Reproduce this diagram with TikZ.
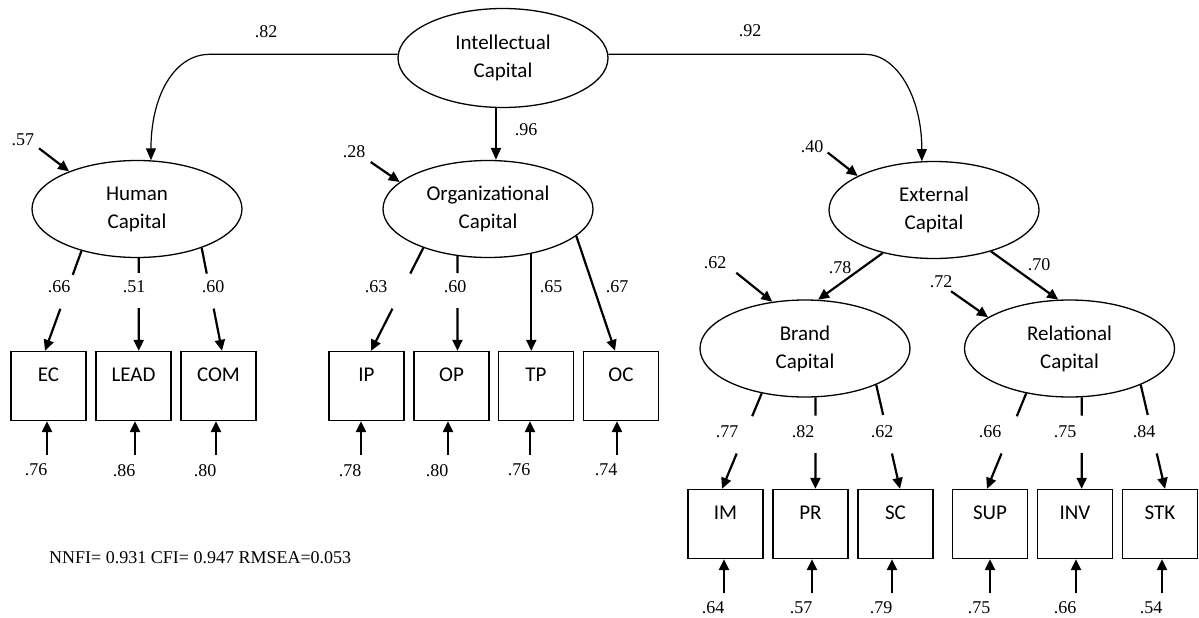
\documentclass[tikz,border=0pt]{standalone}
\usepackage{fontspec}
\setmainfont{Liberation Serif}
\newfontfamily\boxfont{Carlito}
\usetikzlibrary{arrows.meta,calc,shapes.geometric}

% loading line with a gap for its coefficient: start, end, gap start, gap end
\newcommand\brokenload[4]{%
  \draw[loadln] (#1) -- ($(#1)!#3!(#2)$);
  \draw[loadln,tipsm] ($(#1)!#4!(#2)$) -- (#2);}
% measurement error arrow below an indicator: box, x offset, label name, value
\newcommand\errterm[4]{%
  \draw[loadln,tipsm] ($(#1.south)+(#2,34)$) coordinate (#3-o) -- ($(#1.south)+(#2,0)$);
  \node[num] (#3) at ($(#3-o)+(-11,15)$) {#4};}

\begin{document}
\begin{tikzpicture}[x=1pt,y=-1pt,
  latent/.style={ellipse,draw,line width=1.3pt,minimum width=210pt,minimum height=97pt,
    inner sep=0pt,align=center,font=\boxfont\fontsize{21}{28}\selectfont},
  obs/.style={rectangle,draw,line width=1.3pt,minimum width=75pt,inner xsep=0pt,inner ysep=0pt,
    text height=29.5pt,text depth=39.5pt,font=\boxfont\fontsize{21}{25}\selectfont},
  num/.style={inner sep=0pt,font=\fontsize{18}{20}\selectfont},
  struct/.style={line width=1.2pt,-{Triangle[length=12pt,width=10pt]}},
  loadln/.style={line width=2.2pt},
  tipsm/.style={-{Triangle[length=11pt,width=10pt]}},
]
\useasboundingbox (0,0) rectangle (1199,618);

% latent constructs
\node[latent,minimum height=99pt] (IC) at (503,58) {Intellectual\\Capital};
\node[latent] (HC)   at (137,209)  {Human\\Capital};
\node[latent] (OrgC) at (488,209)  {Organizational\\Capital};
\node[latent] (ExtC) at (934,210)  {External\\Capital};
\node[latent] (BrC)  at (805,348.5) {Brand\\Capital};
\node[latent] (RelC) at (1069.5,348.5) {Relational\\Capital};

% indicators
\node[obs] (EC)   at (48.5,386)  {EC};
\node[obs] (LEAD) at (133.5,386) {LEAD};
\node[obs] (COM)  at (218.5,386) {COM};
\node[obs] (IP)   at (366.5,386) {IP};
\node[obs] (OP)   at (451.5,386) {OP};
\node[obs] (TP)   at (536,386)   {TP};
\node[obs] (OC)   at (621,386)   {OC};
\node[obs] (IM)   at (725.5,524) {IM};
\node[obs] (PR)   at (810.5,524) {PR};
\node[obs] (SC)   at (895.5,524) {SC};
\node[obs] (SUP)  at (990,524)   {SUP};
\node[obs] (INV)  at (1075,524)  {INV};
\node[obs] (STK)  at (1160,524)  {STK};

% second-order paths
\draw[struct] (IC.178) -- ++(-188,0) .. controls +(-35,0) and +(0,-65) .. (HC.74);
\draw[struct] (IC.2) -- ++(257,0) .. controls +(31,0) and +(0,-65) .. (ExtC.104);
\draw[line width=2pt,-{Triangle[length=12pt,width=10pt]}] (IC.262) -- (IC.262 |- OrgC.north);
\draw[loadln,tipsm] (ExtC.220) -- (BrC.75);
\draw[loadln,tipsm] (ExtC.324) -- (RelC.103);
\node[num] (w82) at (266,32)  {.82};
\node[num] (w92) at (750,31)  {.92};
\node[num] (w96) at (526,130) {.96};
\node[num] (w78) at (840,268) {.78};
\node[num] (w70) at (1039,265) {.70};

% disturbances
\draw[loadln,tipsm] ($(HC.151)+(-30,-23)$) coordinate (zHC) -- (HC.151);
\draw[loadln,tipsm] ($(OrgC.163)+(-29,-20)$) coordinate (zOrg) -- (OrgC.163);
\draw[loadln,tipsm] ($(ExtC.156)+(-30,-23.5)$) coordinate (zExt) -- (ExtC.156);
\draw[loadln,tipsm] ($(BrC.125)+(-36,-29)$) coordinate (zBr) -- (BrC.125);
\draw[loadln,tipsm] ($(RelC.159)+(-37,-26)$) coordinate (zRel) -- (RelC.159);
\node[num] (d57) at (23,140)  {.57};
\node[num] (d28) at (354,152) {.28};
\node[num] (d40) at (812,147) {.40};
\node[num] (d62) at (715,263) {.62};
\node[num] (d72) at (941,282) {.72};

% arrow ends on the indicators
\coordinate (ECin)  at ($(EC.north)+(-3.5,0)$);
\coordinate (LEADin) at (HC.272 |- LEAD.north);
\coordinate (COMin) at ($(COM.north)+(3.5,0)$);
\coordinate (IPin)  at ($(IP.north)+(4.5,0)$);
\coordinate (OPin)  at (OrgC.237 |- OP.north);
\coordinate (TPin)  at (OrgC.314 |- TP.north);
\coordinate (OCin)  at ($(OC.north)+(-6,0)$);
\coordinate (IMin)  at ($(IM.north)+(-3.5,0)$);
\coordinate (PRin)  at (BrC.282 |- PR.north);
\coordinate (SCin)  at ($(SC.north)+(4.5,0)$);
\coordinate (SUPin) at ($(SUP.north)+(-3,0)$);
\coordinate (INVin) at (RelC.284 |- INV.north);
\coordinate (STKin) at ($(STK.north)+(5,0)$);

% factor loadings
\brokenload{HC.217}{ECin}{0.24}{0.58}
\brokenload{HC.272}{LEADin}{0.16}{0.54}
\brokenload{HC.329}{COMin}{0.25}{0.59}
\brokenload{OrgC.211}{IPin}{0.25}{0.59}
\brokenload{OrgC.237}{OPin}{0.18}{0.55}
\draw[loadln,tipsm] (OrgC.314) -- (TPin);
\draw[loadln,tipsm] (OrgC.343) -- (OCin);
\brokenload{BrC.226}{IMin}{0.24}{0.63}
\brokenload{BrC.282}{PRin}{0.20}{0.61}
\brokenload{BrC.333}{SCin}{0.29}{0.66}
\brokenload{RelC.226}{SUPin}{0.24}{0.63}
\brokenload{RelC.284}{INVin}{0.20}{0.61}
\brokenload{RelC.333}{STKin}{0.29}{0.66}

\node[num] (lEC)   at (59,287)  {.66};
\node[num] (lLEAD) at (134,287) {.51};
\node[num] (lCOM)  at (213,287) {.60};
\node[num] (lIP)   at (376,287) {.63};
\node[num] (lOP)   at (455,287) {.60};
\node[num] (lTP)   at (551,287) {.65};
\node[num] (lOC)   at (617,287) {.67};
\node[num] (lIM)   at (727,432) {.77};
\node[num] (lPR)   at (803,432) {.82};
\node[num] (lSC)   at (882,432) {.62};
\node[num] (lSUP)  at (990,432) {.66};
\node[num] (lINV)  at (1065,432) {.75};
\node[num] (lSTK)  at (1144,432) {.84};

% measurement errors
\errterm{EC}{-1.5}{eEC}{.76}
\errterm{LEAD}{1.5}{eLEAD}{.86}
\errterm{COM}{-2.5}{eCOM}{.80}
\errterm{IP}{-5.5}{eIP}{.78}
\errterm{OP}{-3.5}{eOP}{.80}
\errterm{TP}{-6}{eTP}{.76}
\errterm{OC}{-4}{eOC}{.74}
\errterm{IM}{-1.5}{eIM}{.64}
\errterm{PR}{1.5}{ePR}{.57}
\errterm{SC}{-3.5}{eSC}{.79}
\errterm{SUP}{0}{eSUP}{.75}
\errterm{INV}{1}{eINV}{.66}
\errterm{STK}{2}{eSTK}{.54}

% fit indices
\node[num,anchor=west] (fit) at (49,558) {NNFI= 0.931 CFI= 0.947 RMSEA=0.053};
\end{tikzpicture}
\end{document}
